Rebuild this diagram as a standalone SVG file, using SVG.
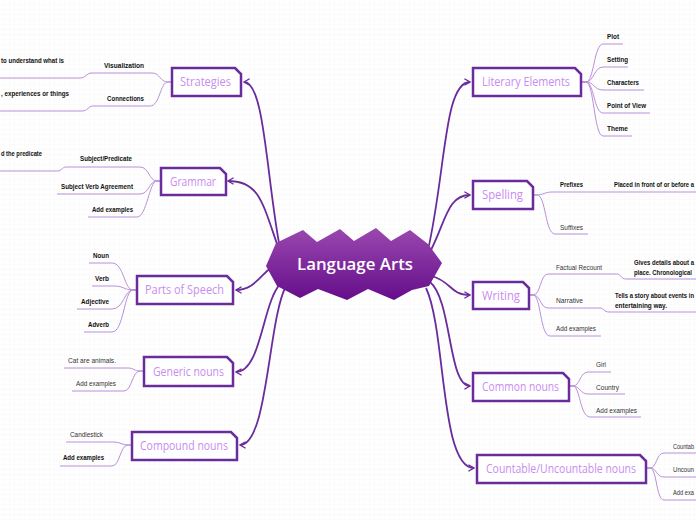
<svg xmlns="http://www.w3.org/2000/svg" width="696" height="520" viewBox="0 0 696 520">
<defs>
<pattern id="grid" width="5" height="5" patternUnits="userSpaceOnUse">
<path d="M5,0 V5 M0,5 H5" fill="none" stroke="#f3f3f5" stroke-width="0.6"/>
</pattern>
<linearGradient id="starGrad" x1="0" y1="0" x2="0" y2="1">
<stop offset="0" stop-color="#9a48b0"/>
<stop offset="1" stop-color="#650d8a"/>
</linearGradient>
<marker id="arr" viewBox="0 0 10 10" refX="9" refY="5" markerWidth="8" markerHeight="8" markerUnits="userSpaceOnUse" orient="auto">
<path d="M2,1 L9,5 L2,9" fill="none" stroke="#6a2c9c" stroke-width="1.6"/>
</marker>
<style>
.main{fill:none;stroke:#6a2c9c;stroke-width:1.8;marker-end:url(#arr)}
.sub{fill:none;stroke:#b890d8;stroke-width:1}
.box{fill:#fff;stroke:#6a2c9c;stroke-width:2.5;stroke-linejoin:miter}
.tt{font-family:"Open Sans","Liberation Sans",sans-serif;font-size:12.5px;fill:#c98cf0}
.lb{font-family:"Liberation Sans",Arial,sans-serif;font-size:7.2px;font-weight:bold;fill:#111}
.ln{font-family:"Liberation Sans",Arial,sans-serif;font-size:7.2px;fill:#333}
</style>
</defs>
<rect width="696" height="520" fill="#fff"/>
<rect width="696" height="520" fill="url(#grid)"/>

<g id="connectors">
<path class="main" d="M279,243 C266,170 264,82 244,82"/>
<path class="main" d="M277,244 C262,200 258,181 228,181"/>
<path class="main" d="M282,262 C262,268 258,290 236,290"/>
<path class="main" d="M282,282 C262,300 262,372 236,372"/>
<path class="main" d="M286,286 C268,320 268,445 240,445"/>
<path class="main" d="M428,250 C446,170 444,82 470,82"/>
<path class="main" d="M431,250 C446,220 448,195 470,195"/>
<path class="main" d="M432,276 C452,282 450,295 470,295"/>
<path class="main" d="M430,282 C452,300 448,386 470,386"/>
<path class="main" d="M426,288 C446,330 440,468 474,468"/>

<path class="sub" d="M172,82 H168 C160,82 160,73 152,73 H92 C86,73 86,78 80,78 H0"/>
<path class="sub" d="M172,82 H168 C160,82 160,106 150,106 H93 C88,106 88,111 82,111 H0"/>
<path class="sub" d="M161,181 H157 C149,181 149,167 140,167 H66 C62,167 62,171 57,171 H0"/>
<path class="sub" d="M161,181 H157 C149,181 149,194 140,194 H57"/>
<path class="sub" d="M161,181 H157 C149,181 147,217 137,217 H88"/>
<path class="sub" d="M137,290 H133 C124,290 124,263 112,263 H89"/>
<path class="sub" d="M137,290 H133 C124,290 124,286 114,286 H92"/>
<path class="sub" d="M137,290 H133 C124,290 124,309 112,309 H77"/>
<path class="sub" d="M137,290 H133 C124,290 124,332 112,332 H84"/>
<path class="sub" d="M144,371 H140 C134,371 134,368 128,368 H64"/>
<path class="sub" d="M144,371 H140 C132,371 132,391 124,391 H72"/>
<path class="sub" d="M132,445 H128 C122,445 120,442 114,442 H66"/>
<path class="sub" d="M132,445 H128 C120,445 120,466 112,466 H60"/>

<path class="sub" d="M581,82 H586 C594,82 594,44 603,44 H623"/>
<path class="sub" d="M581,82 H586 C594,82 594,67 603,67 H628"/>
<path class="sub" d="M581,82 H586 C594,82 594,90 603,90 H644"/>
<path class="sub" d="M581,82 H586 C594,82 594,113 603,113 H650"/>
<path class="sub" d="M581,82 H586 C594,82 594,136 603,136 H632"/>
<path class="sub" d="M533,195 H537 C543,195 545,192 552,192 H696"/>
<path class="sub" d="M533,195 H537 C546,195 545,234 555,234 H588"/>
<path class="sub" d="M529,295 H533 C541,295 540,274 548,274 H617 C621,274 621,279 626,279 H696"/>
<path class="sub" d="M529,295 H533 C541,295 540,308 548,308 H600 C604,308 604,312 609,312 H696"/>
<path class="sub" d="M529,295 H533 C541,295 540,336 550,336 H601"/>
<path class="sub" d="M569,386 H573 C580,386 580,372 588,372 H611"/>
<path class="sub" d="M569,386 H573 C580,386 580,394 588,394 H625"/>
<path class="sub" d="M569,386 H573 C580,386 580,417 590,417 H641"/>
<path class="sub" d="M646,468 H650 C657,468 656,453 664,453 H696"/>
<path class="sub" d="M646,468 H650 C657,468 656,477 664,477 H696"/>
<path class="sub" d="M646,468 H650 C657,468 656,500 664,500 H696"/>
</g>

<g id="center">
<polygon points="276,243 303,230 317,242 340,229 354,241 376,228 391,241 410,230 428,244 442,263 429,286 412,290 394,300 368,289 347,300 318,289 300,298 277,286 266,266" fill="url(#starGrad)"/>
<text x="297" y="270" textLength="116" lengthAdjust="spacingAndGlyphs" font-family="'Open Sans','Liberation Sans',sans-serif" font-size="16.5" font-weight="600" fill="#fff">Language Arts</text>
</g>

<g id="strategies">
<path class="box" d="M172,68 H235 L241,74 V96 H172 Z"/>
<text class="tt" x="180" y="86" textLength="51" lengthAdjust="spacingAndGlyphs">Strategies</text>
<text class="lb" x="104" y="68" textLength="40" lengthAdjust="spacingAndGlyphs">Visualization</text>
<text class="lb" x="1" y="63" textLength="63" lengthAdjust="spacingAndGlyphs">to understand what is</text>
<text class="lb" x="107" y="101" textLength="37" lengthAdjust="spacingAndGlyphs">Connections</text>
<text class="lb" x="1" y="96" textLength="68" lengthAdjust="spacingAndGlyphs">, experiences or  things</text>
</g>

<g id="grammar">
<path class="box" d="M161,168 H220 L226,174 V195 H161 Z"/>
<text class="tt" x="170" y="186" textLength="46" lengthAdjust="spacingAndGlyphs">Grammar</text>
<text class="lb" x="80" y="161" textLength="52" lengthAdjust="spacingAndGlyphs">Subject/Predicate</text>
<text class="lb" x="1" y="156" textLength="41" lengthAdjust="spacingAndGlyphs">d the predicate</text>
<text class="lb" x="61" y="189" textLength="72" lengthAdjust="spacingAndGlyphs">Subject Verb Agreement</text>
<text class="lb" x="92" y="212" textLength="41" lengthAdjust="spacingAndGlyphs">Add examples</text>
</g>

<g id="parts-of-speech">
<path class="box" d="M137,276 H227 L233,282 V304 H137 Z"/>
<text class="tt" x="145" y="294" textLength="79" lengthAdjust="spacingAndGlyphs">Parts of Speech</text>
<text class="lb" x="93" y="258" textLength="16" lengthAdjust="spacingAndGlyphs">Noun</text>
<text class="lb" x="95" y="281" textLength="14" lengthAdjust="spacingAndGlyphs">Verb</text>
<text class="lb" x="81" y="304" textLength="28" lengthAdjust="spacingAndGlyphs">Adjective</text>
<text class="lb" x="88" y="327" textLength="21" lengthAdjust="spacingAndGlyphs">Adverb</text>
</g>

<g id="generic-nouns">
<path class="box" d="M144,357 H227 L233,363 V386 H144 Z"/>
<text class="tt" x="153" y="376" textLength="71" lengthAdjust="spacingAndGlyphs">Generic nouns</text>
<text class="ln" x="68" y="363" textLength="48" lengthAdjust="spacingAndGlyphs">Cat are animals.</text>
<text class="ln" x="76" y="386" textLength="40" lengthAdjust="spacingAndGlyphs">Add examples</text>
</g>

<g id="compound-nouns">
<path class="box" d="M132,432 H231 L237,438 V460 H132 Z"/>
<text class="tt" x="140" y="450" textLength="88" lengthAdjust="spacingAndGlyphs">Compound nouns</text>
<text class="ln" x="70" y="437" textLength="33" lengthAdjust="spacingAndGlyphs">Candlestick</text>
<text class="lb" x="63" y="460" textLength="41" lengthAdjust="spacingAndGlyphs">Add examples</text>
</g>

<g id="literary-elements">
<path class="box" d="M473,68 H575 L581,74 V96 H473 Z"/>
<text class="tt" x="482" y="86" textLength="88" lengthAdjust="spacingAndGlyphs">Literary Elements</text>
<text class="lb" x="607" y="39" textLength="12" lengthAdjust="spacingAndGlyphs">Plot</text>
<text class="lb" x="607" y="62" textLength="21" lengthAdjust="spacingAndGlyphs">Setting</text>
<text class="lb" x="607" y="85" textLength="32" lengthAdjust="spacingAndGlyphs">Characters</text>
<text class="lb" x="607" y="108" textLength="39" lengthAdjust="spacingAndGlyphs">Point of View</text>
<text class="lb" x="607" y="131" textLength="21" lengthAdjust="spacingAndGlyphs">Theme</text>
</g>

<g id="spelling">
<path class="box" d="M473,181 H527 L533,187 V209 H473 Z"/>
<text class="tt" x="482" y="199" textLength="41" lengthAdjust="spacingAndGlyphs">Spelling</text>
<text class="lb" x="560" y="187" textLength="23" lengthAdjust="spacingAndGlyphs">Prefixes</text>
<text class="lb" x="614" y="187" textLength="80" lengthAdjust="spacingAndGlyphs">Placed in front of or before a</text>
<text class="ln" x="560" y="230" textLength="23" lengthAdjust="spacingAndGlyphs">Suffixes</text>
</g>

<g id="writing">
<path class="box" d="M473,282 H523 L529,288 V309 H473 Z"/>
<text class="tt" x="482" y="300" textLength="38" lengthAdjust="spacingAndGlyphs">Writing</text>
<text class="ln" x="556" y="270" textLength="46" lengthAdjust="spacingAndGlyphs">Factual Recount</text>
<text class="lb" x="634" y="265" textLength="60" lengthAdjust="spacingAndGlyphs">Gives details about a</text>
<text class="lb" x="634" y="275" textLength="58" lengthAdjust="spacingAndGlyphs">place. Chronological</text>
<text class="ln" x="556" y="303" textLength="27" lengthAdjust="spacingAndGlyphs">Narrative</text>
<text class="lb" x="615" y="298" textLength="79" lengthAdjust="spacingAndGlyphs">Tells a story about events in</text>
<text class="lb" x="615" y="308" textLength="52" lengthAdjust="spacingAndGlyphs">entertaining way.</text>
<text class="ln" x="556" y="331" textLength="40" lengthAdjust="spacingAndGlyphs">Add examples</text>
</g>

<g id="common-nouns">
<path class="box" d="M473,373 H563 L569,379 V401 H473 Z"/>
<text class="tt" x="482" y="391" textLength="77" lengthAdjust="spacingAndGlyphs">Common nouns</text>
<text class="ln" x="596" y="367" textLength="10" lengthAdjust="spacingAndGlyphs">Girl</text>
<text class="ln" x="596" y="390" textLength="23" lengthAdjust="spacingAndGlyphs">Country</text>
<text class="ln" x="596" y="413" textLength="41" lengthAdjust="spacingAndGlyphs">Add examples</text>
</g>

<g id="countable-uncountable-nouns">
<path class="box" d="M477,455 H640 L646,461 V483 H477 Z"/>
<text class="tt" x="486" y="473" textLength="150" lengthAdjust="spacingAndGlyphs">Countable/Uncountable nouns</text>
<text class="ln" x="673" y="449" textLength="21" lengthAdjust="spacingAndGlyphs">Countab</text>
<text class="ln" x="673" y="472" textLength="21" lengthAdjust="spacingAndGlyphs">Uncoun</text>
<text class="ln" x="673" y="495" textLength="21" lengthAdjust="spacingAndGlyphs">Add exa</text>
</g>
</svg>
